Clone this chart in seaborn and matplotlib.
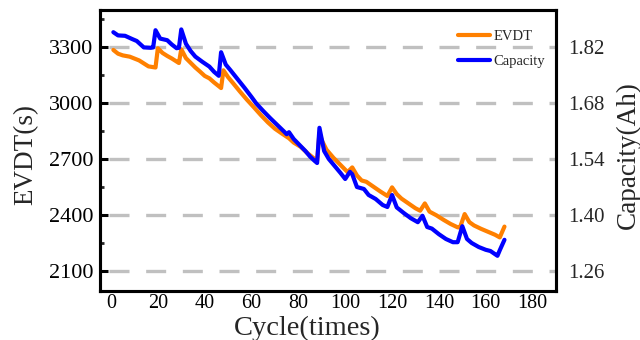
import matplotlib
matplotlib.use("Agg")
import matplotlib.pyplot as plt
import seaborn as sns
import numpy as np
import pandas as pd
from matplotlib.ticker import MultipleLocator, FixedLocator, FormatStrFormatter
from matplotlib.lines import Line2D

# ---- data ----
evdt_cycles = [1, 3, 5, 8, 10, 12, 14, 16, 19, 20, 22, 24, 26, 28, 29, 30, 32, 34, 36, 38,
               40, 42, 44, 47, 48, 50, 52, 55, 58, 61, 64, 67, 70, 73, 76, 78, 81, 84, 87, 88,
               89, 90, 92, 95, 98, 101, 103, 105, 107, 109, 112, 115, 118, 120, 122, 124, 127,
               130, 132, 134, 136, 139, 142, 145, 148, 149, 151, 153, 155, 158, 161, 164, 166, 168]
evdt_values = [3284, 3264, 3255, 3248, 3238, 3228, 3212, 3196, 3190, 3293, 3268, 3252, 3238, 3222,
               3214, 3288, 3240, 3215, 3190, 3168, 3145, 3132, 3110, 3080, 3175, 3138, 3108, 3062,
               3018, 2977, 2935, 2896, 2862, 2836, 2811, 2788, 2765, 2730, 2700, 2690, 2840, 2800,
               2750, 2706, 2668, 2630, 2655, 2612, 2585, 2578, 2552, 2526, 2502, 2548, 2512, 2488,
               2462, 2436, 2423, 2462, 2418, 2398, 2374, 2352, 2334, 2333, 2405, 2362, 2344, 2326,
               2310, 2294, 2280, 2338]

cap_cycles = [1, 3, 6, 9, 11, 14, 17, 18, 19, 21, 24, 26, 28, 29, 30, 32, 34, 36, 39, 42, 44,
              46, 47, 49, 51, 54, 57, 60, 62, 65, 68, 71, 74, 75, 76, 78, 80, 83, 85, 87, 88,
              89, 91, 93, 96, 98, 100, 102, 103, 105, 108, 110, 113, 116, 118, 120, 122, 125,
              128, 131, 133, 135, 137, 140, 143, 146, 148, 150, 152, 154, 157, 160, 162, 164,
              165, 166, 168]
cap_values = [1.857, 1.849, 1.848, 1.840, 1.835, 1.819, 1.818, 1.819, 1.862, 1.841, 1.837, 1.826,
              1.817, 1.818, 1.864, 1.828, 1.810, 1.796, 1.783, 1.771, 1.758, 1.748, 1.807, 1.776,
              1.762, 1.740, 1.718, 1.695, 1.679, 1.660, 1.642, 1.625, 1.608, 1.602, 1.607, 1.590,
              1.578, 1.560, 1.546, 1.535, 1.530, 1.618, 1.560, 1.540, 1.519, 1.505, 1.490, 1.508,
              1.502, 1.470, 1.465, 1.450, 1.440, 1.425, 1.420, 1.450, 1.419, 1.405, 1.392, 1.382,
              1.398, 1.370, 1.366, 1.352, 1.340, 1.332, 1.332, 1.372, 1.340, 1.330, 1.320, 1.313,
              1.310, 1.302, 1.298, 1.312, 1.338]

x_ticks = [0, 20, 40, 60, 80, 100, 120, 140, 160, 180]
left_ticks = [2100, 2400, 2700, 3000, 3300]
right_ticks = [1.26, 1.40, 1.54, 1.68, 1.82]

series_names = ["EVDT", "Capacity"]
x_label = "Cycle(times)"
left_label = "EVDT(s)"
right_label = "Capacity(Ah)"

# ---- style ----
sns.set_style("white")
plt.rcParams['font.family'] = ['Liberation Serif', 'DejaVu Serif']

ORANGE = "#FF8000"
BLUE = "#0000FF"

fig = plt.figure(figsize=(6.4, 3.4), dpi=100)
ax = fig.add_axes([100/640, 1 - 291/340, 456/640, 281/340])
ax2 = ax.twinx()

df_e = pd.DataFrame({"cycle": evdt_cycles, "value": evdt_values})
df_c = pd.DataFrame({"cycle": cap_cycles, "value": cap_values})

sns.lineplot(data=df_e, x="cycle", y="value", ax=ax, color=ORANGE, linewidth=3.0,
             legend=False, zorder=3)
sns.lineplot(data=df_c, x="cycle", y="value", ax=ax2, color=BLUE, linewidth=3.0,
             legend=False, zorder=3)

ax.set_xlim(-4.7, 190)
ax.set_ylim(1993, 3498)
ax2.set_ylim(1.21, 1.9125)

# grid
for yv in left_ticks:
    ax.axhline(yv, xmin=0.02, xmax=1.0, color="#c0c0c0", linewidth=2.4,
               dashes=(6, 5), zorder=1)

ax.xaxis.set_major_locator(FixedLocator(x_ticks))
ax.xaxis.set_minor_locator(MultipleLocator(10))
ax.yaxis.set_major_locator(FixedLocator(left_ticks))
ax.yaxis.set_minor_locator(FixedLocator([2250, 2550, 2850, 3150, 3450]))
ax2.yaxis.set_major_locator(FixedLocator(right_ticks))
ax2.yaxis.set_major_formatter(FormatStrFormatter("%.2f"))
ax2.yaxis.set_minor_locator(FixedLocator([]))

ax.tick_params(axis="both", which="major", direction="in", length=6, width=2.2,
               labelsize=14.5, colors="black")
ax.tick_params(axis="both", which="minor", direction="in", length=3, width=2.0)
ax.tick_params(axis="x", which="major", pad=2)
ax.tick_params(axis="y", which="major", pad=5, labelsize=16)
ax.tick_params(top=False, right=False, which="both")
ax2.tick_params(axis="y", which="major", direction="in", length=0, pad=9, labelsize=15)

for a in (ax, ax2):
    for s in a.spines.values():
        s.set_linewidth(2.2)
        s.set_color("black")

ax.set_xlabel("")
ax.set_ylabel("")
ax2.set_ylabel("")

fig.text(307/640, 1 - 328/340, x_label, ha="center", va="center", fontsize=20.5)
fig.text(26/640, 1 - 155/340, left_label, ha="center", va="center", rotation=90, fontsize=19.5)
fig.text(628/640, 1 - 155/340, right_label, ha="center", va="center", rotation=90, fontsize=19.5)

handles = [Line2D([0], [0], color=ORANGE, linewidth=3.0),
           Line2D([0], [0], color=BLUE, linewidth=3.0)]
leg = ax2.legend(handles, series_names, loc="upper right", bbox_to_anchor=(0.995, 0.96),
                 frameon=False, fontsize=10.5, handlelength=2.2, handletextpad=0.25,
                 labelspacing=0.8, borderaxespad=0.2)

fig.savefig("out.png", dpi=100)
